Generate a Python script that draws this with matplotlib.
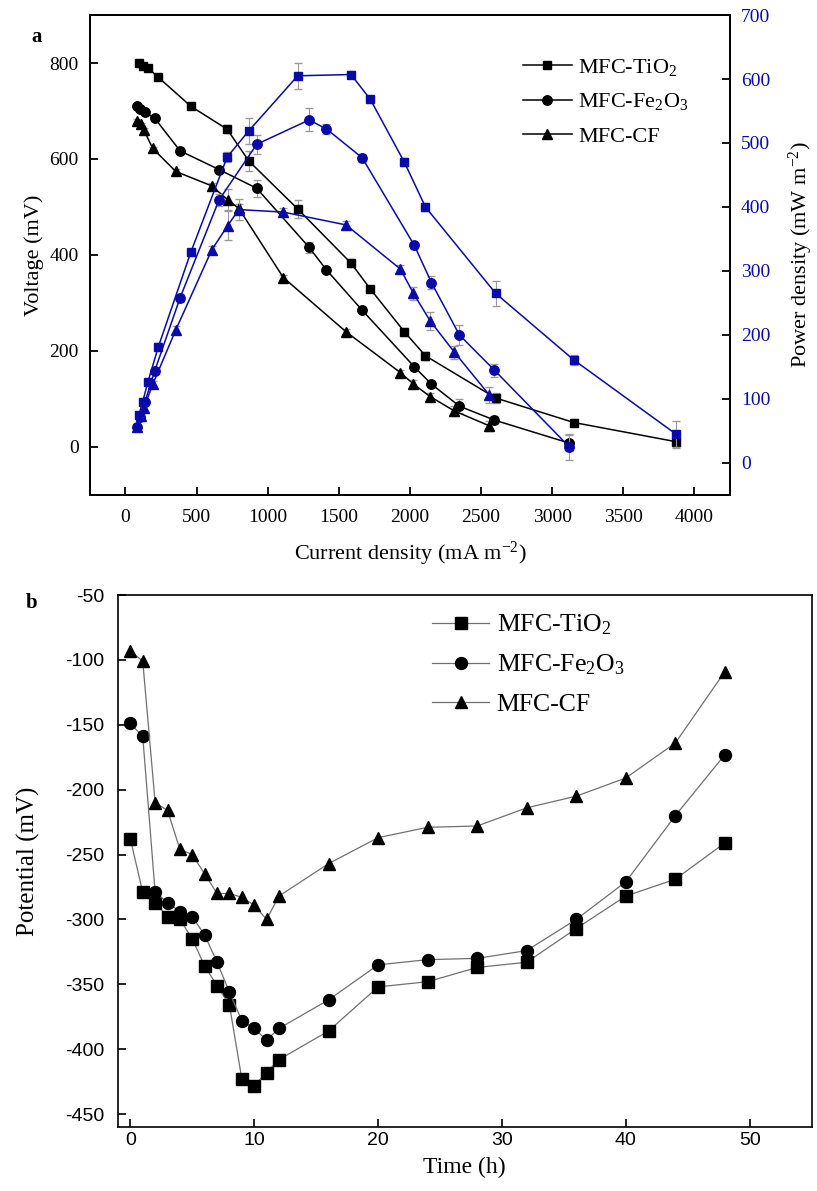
import matplotlib.pyplot as plt

plt.rcParams['font.family'] = ['Liberation Serif', 'DejaVu Serif']
plt.rcParams['mathtext.fontset'] = 'custom'
plt.rcParams['mathtext.rm'] = 'Liberation Serif'
plt.rcParams['mathtext.it'] = 'Liberation Serif:italic'
plt.rcParams['axes.unicode_minus'] = False

# ---- polarization / power curves (panel a) ----
ti_i = [94, 122, 157, 232, 459, 715, 867, 1211, 1586, 1722, 1961, 2109, 2603, 3152, 3871]
ti_v = [800, 793, 790, 770, 710, 662, 596, 496, 383, 329, 240, 190, 102, 51, 11]
ti_p = [75, 96, 126, 182, 329, 478, 519, 605, 607, 568, 470, 400, 265, 161, 45]
ti_v_err = [4, 4, 4, 4, 6, 8, 20, 18, 8, 6, 8, 8, 10, 8, 14]
ti_p_err = [4, 4, 4, 5, 6, 8, 20, 20, 5, 5, 6, 6, 20, 8, 20]

fe_i = [80, 103, 138, 206, 384, 658, 923, 1291, 1413, 1664, 2031, 2151, 2348, 2594, 3121]
fe_v = [711, 704, 697, 685, 617, 578, 539, 416, 369, 285, 167, 131, 85, 56, 8]
fe_p = [57, 72, 96, 144, 258, 411, 498, 536, 522, 477, 340, 282, 200, 145, 25]
fe_v_err = [4, 4, 4, 4, 5, 6, 18, 12, 6, 6, 6, 6, 14, 8, 16]
fe_p_err = [4, 4, 4, 5, 6, 10, 15, 18, 8, 6, 6, 10, 15, 10, 20]

cf_i = [82, 110, 130, 192, 354, 607, 719, 797, 1110, 1551, 1933, 2025, 2142, 2313, 2559]
cf_v = [680, 672, 660, 622, 574, 544, 515, 497, 353, 240, 155, 131, 105, 75, 44]
cf_p = [56, 74, 86, 123, 208, 333, 371, 396, 392, 372, 303, 265, 222, 173, 106]
cf_v_err = [4, 4, 4, 4, 5, 6, 22, 10, 6, 6, 6, 8, 8, 10, 10]
cf_p_err = [4, 4, 4, 5, 6, 6, 22, 16, 6, 6, 6, 10, 14, 10, 12]

# ---- anode potential over time (panel b) ----
time_h = [0, 1, 2, 3, 4, 5, 6, 7, 8, 9, 10, 11, 12, 16, 20, 24, 28, 32, 36, 40, 44, 48]
pot_ti = [-238, -279, -287, -298, -300, -315, -336, -351, -366, -423, -428, -418, -408,
          -386, -352, -348, -337, -333, -307, -282, -269, -241]
pot_fe = [-149, -159, -279, -287, -294, -298, -312, -333, -356, -378, -384, -393, -384,
          -362, -335, -331, -330, -324, -300, -271, -220, -173]
pot_cf = [-93, -101, -210, -216, -246, -250, -265, -280, -280, -283, -289, -300, -282,
          -257, -237, -229, -228, -214, -205, -191, -164, -109]

labels = ['MFC-TiO$_2$', 'MFC-Fe$_2$O$_3$', 'MFC-CF']
markers = ['s', 'o', '^']
msize_a = [6, 6.8, 7.2]
blue = '#0a0aa8'
ecol = '#9a9a9a'

fig = plt.figure(figsize=(8.17, 11.91), dpi=100)

# -------------------------------
# PANEL A
# -------------------------------
ax = fig.add_axes([0.110, 0.5844, 0.7835, 0.403])
ax2 = ax.twinx()

volt = [(ti_i, ti_v, ti_v_err), (fe_i, fe_v, fe_v_err), (cf_i, cf_v, cf_v_err)]
power = [(ti_i, ti_p, ti_p_err), (fe_i, fe_p, fe_p_err), (cf_i, cf_p, cf_p_err)]

handles = []
for (x, y, e), m, ms, lab in zip(volt, markers, msize_a, labels):
    ax.errorbar(x, y, yerr=e, fmt='none', ecolor=ecol, elinewidth=0.8, capsize=3, zorder=2)
    h, = ax.plot(x, y, marker=m, color='black', ms=ms, lw=1.1, zorder=3, label=lab)
    handles.append(h)

for (x, y, e), m, ms in zip(power, markers, msize_a):
    ax2.errorbar(x, y, yerr=e, fmt='none', ecolor=ecol, elinewidth=0.8, capsize=3, zorder=2)
    ax2.plot(x, y, marker=m, color=blue, mfc=blue, mec=blue, ms=ms, lw=1.1, zorder=3)

ax.set_xlim(-250, 4250)
ax.set_ylim(-100, 900)
ax2.set_ylim(-50, 700)
ax.set_xticks(range(0, 4001, 500))
ax.set_yticks(range(0, 801, 200))
ax2.set_yticks(range(0, 701, 100))

ax.tick_params(axis='both', direction='in', length=6, width=1.3, labelsize=14, pad=8)
ax.tick_params(axis='x', pad=10)
ax2.tick_params(axis='y', direction='in', length=6, width=1.3, labelsize=14,
                labelcolor=blue, pad=8)
for a in (ax, ax2):
    for s in a.spines.values():
        s.set_linewidth(1.3)

ax.set_xlabel('Current density (mA m$^{-2}$)', fontsize=16, labelpad=10)
ax.set_ylabel('Voltage (mV)', fontsize=16, labelpad=4)
ax2.set_ylabel('Power density (mW m$^{-2}$)', fontsize=16, labelpad=12)

ax.legend(handles=handles, loc='upper left', bbox_to_anchor=(0.645, 0.955), frameon=False,
          fontsize=16, handlelength=2.2, handletextpad=0.3, labelspacing=0.62)
ax.text(-0.083, 0.954, 'a', transform=ax.transAxes, fontsize=15, fontweight='bold',
        ha='center', va='center')

# -------------------------------
# PANEL B
# -------------------------------
bx = fig.add_axes([0.1444, 0.0537, 0.849, 0.4467])
msize_b = [8, 8.6, 9.2]
hb = []
for y, m, ms, lab in zip([pot_ti, pot_fe, pot_cf], markers, msize_b, labels):
    h, = bx.plot(time_h, y, marker=m, color='#707070', mfc='black', mec='black',
                 ms=ms, lw=0.9, label=lab)
    hb.append(h)

bx.set_xlim(-1, 55)
bx.set_ylim(-460, -50)
bx.set_xticks(range(0, 51, 10))
bx.set_yticks(range(-450, -49, 50))
bx.tick_params(axis='both', direction='in', length=6, width=1.2, labelsize=14)
bx.tick_params(axis='y', pad=10)
for lab in bx.get_xticklabels() + bx.get_yticklabels():
    lab.set_family(['Liberation Sans', 'DejaVu Sans'])
for s in bx.spines.values():
    s.set_linewidth(1.2)
bx.set_xlabel('Time (h)', fontsize=17, labelpad=6)
bx.set_ylabel('Potential (mV)', fontsize=18, labelpad=18)

bx.legend(handles=hb, loc='upper left', bbox_to_anchor=(0.42, 1.01), frameon=False,
          fontsize=18.5, handlelength=2.2, handletextpad=0.3, labelspacing=0.6)
bx.text(-0.124, 0.985, 'b', transform=bx.transAxes, fontsize=15, fontweight='bold',
        ha='center', va='center')

fig.savefig('out.png', dpi=100)
